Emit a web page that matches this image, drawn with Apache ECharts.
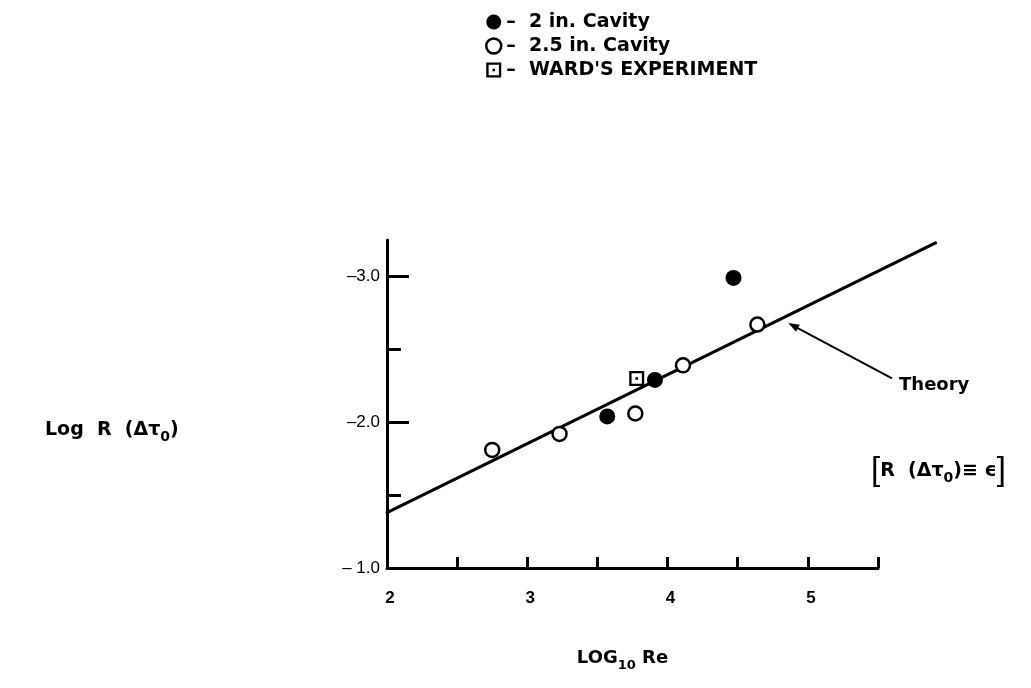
<!DOCTYPE html>
<html><head><meta charset="utf-8">
<script src="https://cdn.jsdelivr.net/npm/echarts@6/dist/echarts.min.js"></script>
<style>html,body{margin:0;padding:0;background:#fff}#c{width:1031px;height:688px}</style>
</head><body><div id="c"></div>
<script>
// ---- data (x = log10 Re, y = log R(Δτ0)) ----
const cavity2 = [[3.57, -2.04], [3.91, -2.29], [4.47, -2.99]];
const cavity25 = [[2.75, -1.81], [3.23, -1.92], [3.77, -2.06], [4.11, -2.39], [4.64, -2.67]];
const ward = [[3.78, -2.30]];
const theoryStart = [2.0, -1.38];
const theoryEnd = [5.91, -3.23];
const theoryArrowFrom = [5.60, -2.30];
const theoryArrowTo = [4.86, -2.68];
const theoryLabelAt = [5.65, -2.255];
const xLabelValues = [2, 3, 4, 5];
const xTickValues = [2.5, 3, 3.5, 4, 4.5, 5, 5.5];
const yLabelValues = [-3, -2, -1];
const yMinorTickValues = [-2.5, -1.5];
const seriesNames = ['2 in. Cavity', '2.5 in. Cavity', "WARD'S EXPERIMENT"];

const F = '"Liberation Sans", "DejaVu Sans", Arial, sans-serif';
const FW = '"DejaVu Sans", "Liberation Sans", sans-serif';
const wardSymbol = 'path://M0,0 H14 V14 H0 Z M2.2,2.2 V11.8 H11.8 V2.2 Z M5.8,5.8 H8.2 V8.2 H5.8 Z';

const sub = (size) => ({fontFamily: FW, fontWeight: 'bold', fontSize: size, lineHeight: size, verticalAlign: 'bottom', color: '#000'});
const main = (size) => ({fontFamily: FW, fontWeight: 'bold', fontSize: size, lineHeight: 28, verticalAlign: 'middle', color: '#000'});

const chart = echarts.init(document.getElementById('c'), null, {renderer: 'canvas'});
const option = {
  backgroundColor: '#fff',
  animation: false,
  grid: {left: 387, right: 153, top: 240, bottom: 120, containLabel: false},
  legend: {
    orient: 'vertical', left: 480, top: 6,
    itemWidth: 15, itemHeight: 15, itemGap: 2,
    textStyle: {fontFamily: FW, fontWeight: 'bold', fontSize: 19, color: '#000', lineHeight: 22},
    formatter: n => '–  ' + n,
    data: [
      {name: seriesNames[0], icon: 'circle', itemStyle: {color: '#000', borderWidth: 0}},
      {name: seriesNames[1], icon: 'circle', itemStyle: {color: '#fff', borderColor: '#000', borderWidth: 2.5}},
      {name: seriesNames[2], icon: wardSymbol, itemStyle: {color: '#000', borderWidth: 0}}
    ]
  },
  title: [
    {text: '{m|Log  R  (Δτ}{s|0}{m|)}', left: 40, top: 411,
     textStyle: {rich: {m: main(19), s: sub(14)}}},
    {text: '{b|[}{m|R  (Δτ}{s|0}{m|)≡ ϵ}{b|]}', left: 866, top: 452,
     textStyle: {rich: {
       b: {fontFamily: F, fontSize: 33, lineHeight: 28, verticalAlign: 'middle', color: '#000', fontWeight: 'normal'},
       m: main(19), s: sub(14)
     }}}
  ],
  xAxis: {
    type: 'value', min: 2, max: 5.5,
    name: '{m|LOG}{s|10}{m| Re}', nameLocation: 'middle', nameGap: 76,
    nameTextStyle: {padding: [0, 20, 0, 0], rich: {m: main(18), s: sub(13)}},
    axisLine: {lineStyle: {color: '#000', width: 3}},
    axisTick: {inside: true, length: 11, customValues: xTickValues, lineStyle: {color: '#000', width: 3}},
    axisLabel: {customValues: xLabelValues, margin: 22, fontFamily: F, fontWeight: 'bold', fontSize: 17, color: '#000',
      padding: [0, 0, 0, 6]},
    splitLine: {show: false}
  },
  yAxis: [
    {
      type: 'value', min: -3.25, max: -1, inverse: true, position: 'left',
      axisLine: {lineStyle: {color: '#000', width: 3}},
      axisTick: {inside: true, length: 22, customValues: yLabelValues, lineStyle: {color: '#000', width: 3}},
      axisLabel: {customValues: yLabelValues, margin: 7, fontFamily: F, fontSize: 17, color: '#000',
        formatter: v => v === -1 ? '– 1.0' : '–' + Math.abs(v).toFixed(1)},
      splitLine: {show: false}
    },
    {
      type: 'value', min: -3.25, max: -1, inverse: true, position: 'left',
      axisLine: {show: false},
      axisTick: {inside: true, length: 14, customValues: yMinorTickValues, lineStyle: {color: '#000', width: 3}},
      axisLabel: {show: false},
      splitLine: {show: false}
    }
  ],
  series: [
    {name: 'Theory', type: 'custom', clip: false, z: 1,
     data: [[theoryStart[0], theoryStart[1], theoryEnd[0], theoryEnd[1]]],
     encode: {x: [0, 2], y: [1, 3]},
     renderItem: (params, api) => {
       const a = api.coord([api.value(0), api.value(1)]);
       const b = api.coord([api.value(2), api.value(3)]);
       return {type: 'line', shape: {x1: a[0], y1: a[1], x2: b[0], y2: b[1]},
               style: {stroke: '#000', lineWidth: 3.2, lineCap: 'round'}};
     }},
    {name: seriesNames[0], type: 'scatter', data: cavity2, symbol: 'circle', symbolSize: 16, z: 3,
     itemStyle: {color: '#000', opacity: 1}},
    {name: seriesNames[1], type: 'scatter', data: cavity25, symbol: 'circle', symbolSize: 14, z: 3,
     itemStyle: {color: '#fff', borderColor: '#000', borderWidth: 2.5, opacity: 1}},
    {name: seriesNames[2], type: 'scatter', data: ward, symbol: wardSymbol, symbolSize: 15, z: 3,
     itemStyle: {color: '#000', opacity: 1}}
  ]
};
chart.setOption(option);

// Arrow annotation for the theory line, placed via the chart's own scales
const p1 = chart.convertToPixel({gridIndex: 0}, theoryArrowFrom);
const p2 = chart.convertToPixel({gridIndex: 0}, theoryArrowTo);
const pl = chart.convertToPixel({gridIndex: 0}, theoryLabelAt);
const dx = p2[0] - p1[0], dy = p2[1] - p1[1];
const L = Math.hypot(dx, dy), ux = dx / L, uy = dy / L, nx = -uy, ny = ux;
const hl = 11, hw = 4;
chart.setOption({
  graphic: [
    {type: 'line', shape: {x1: p1[0], y1: p1[1], x2: p2[0] - ux * 6, y2: p2[1] - uy * 6},
     style: {stroke: '#000', lineWidth: 2}},
    {type: 'polygon', shape: {points: [
      [p2[0], p2[1]],
      [p2[0] - ux * hl + nx * hw, p2[1] - uy * hl + ny * hw],
      [p2[0] - ux * hl - nx * hw, p2[1] - uy * hl - ny * hw]]},
     style: {fill: '#000'}},
    {type: 'text', x: pl[0], y: pl[1],
     style: {text: 'Theory', fontFamily: FW, fontWeight: 'bold', fontSize: 18, fill: '#000',
       textAlign: 'left', textVerticalAlign: 'middle'}}
  ]
});
</script></body></html>
